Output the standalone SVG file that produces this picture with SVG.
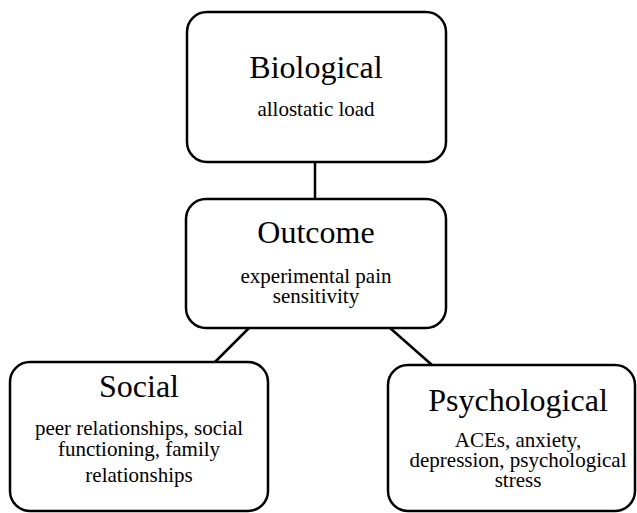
<svg xmlns="http://www.w3.org/2000/svg" width="637" height="513" viewBox="0 0 637 513">
<style>
.box{fill:#fff;stroke:#000;stroke-width:2.5}
.con{stroke:#000;stroke-width:2.5;fill:none}
.t{font-family:"Liberation Serif","Times New Roman",serif;font-size:32px;text-anchor:middle;fill:#000}
.s{font-family:"Liberation Serif","Times New Roman",serif;font-size:21px;text-anchor:middle;fill:#000}
</style>
<rect width="637" height="513" fill="#fff"/>
<g id="connectors">
<line class="con" x1="315" y1="162" x2="315" y2="199"/>
<line class="con" x1="249" y1="328" x2="215" y2="362"/>
<line class="con" x1="390" y1="328" x2="432" y2="365"/>
</g>
<g id="biological">
<rect class="box" x="187" y="12" width="259" height="150" rx="20"/>
<text class="t" x="316" y="78">Biological</text>
<text class="s" x="316" y="116">allostatic load</text>
</g>
<g id="outcome">
<rect class="box" x="186" y="199" width="260" height="129" rx="20"/>
<text class="t" x="316" y="243">Outcome</text>
<text class="s" x="316" y="283">experimental pain</text>
<text class="s" x="316" y="303">sensitivity</text>
</g>
<g id="social">
<rect class="box" x="10" y="362" width="258" height="149" rx="20"/>
<text class="t" x="139" y="397">Social</text>
<text class="s" x="139" y="435">peer relationships, social</text>
<text class="s" x="139" y="456">functioning, family</text>
<text class="s" x="139" y="482">relationships</text>
</g>
<g id="psychological">
<rect class="box" x="388" y="365" width="247" height="146" rx="20"/>
<text class="t" x="518" y="411">Psychological</text>
<text class="s" x="518" y="447">ACEs, anxiety,</text>
<text class="s" x="518" y="467">depression, psychological</text>
<text class="s" x="518" y="487">stress</text>
</g>
</svg>
